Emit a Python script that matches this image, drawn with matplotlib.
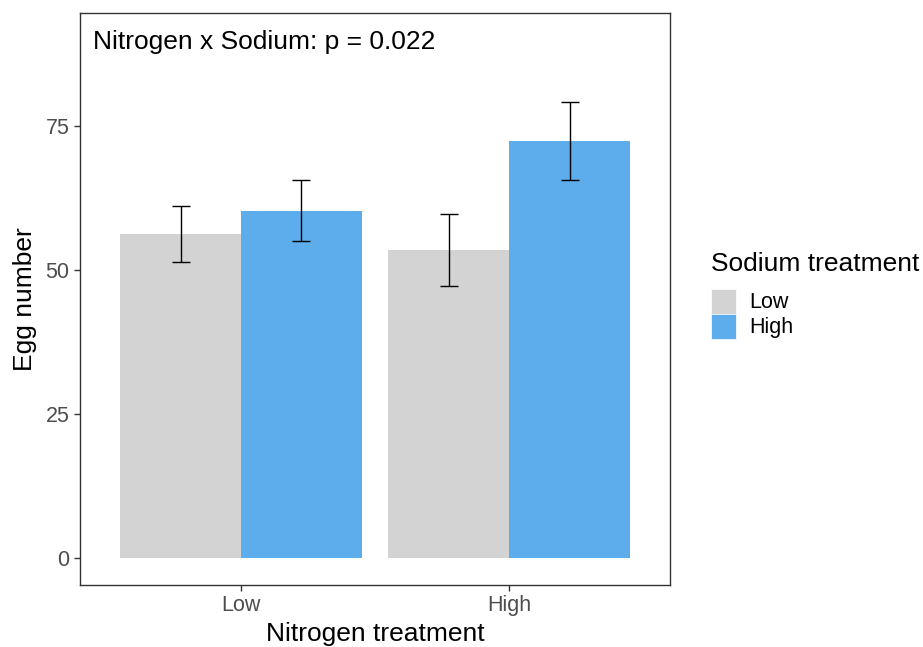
import matplotlib
matplotlib.use('Agg')
import matplotlib.pyplot as plt
from matplotlib.patches import Patch
import numpy as np

plt.rcParams['font.family'] = ['Liberation Sans', 'DejaVu Sans']

NITROGEN = ['Low', 'High']
SODIUM = ['Low', 'High']
MEANS = {'Low': [56.2, 53.5], 'High': [60.2, 72.4]}
LOWER = {'Low': [51.4, 47.2], 'High': [55.0, 65.6]}
UPPER = {'Low': [61.1, 59.7], 'High': [65.6, 79.2]}
COLORS = {'Low': '#D3D3D3', 'High': '#5DADEC'}

fig = plt.figure(figsize=(9.23, 6.47), dpi=100)
ax = fig.add_axes([0.0867, 0.0958, 0.6393, 0.8842])

x = np.arange(1, len(NITROGEN) + 1)
width = 0.45
for i, s in enumerate(SODIUM):
  xs = x + (i - 0.5) * width
  ax.bar(xs, MEANS[s], width=width, color=COLORS[s], zorder=1)
  means = np.array(MEANS[s])
  yerr = [means - np.array(LOWER[s]), np.array(UPPER[s]) - means]
  ax.errorbar(xs, means, yerr=yerr, fmt='none', ecolor='black',
              elinewidth=1, capsize=6.5, capthick=1, zorder=2)

ax.text(0.45, 89.6, 'Nitrogen x Sodium: p = 0.022', fontsize=19,
        ha='left', va='center')

ax.set_xlim(0.4, 2.6)
ax.set_ylim(-4.7, 94.6)
ax.set_xticks(x)
ax.set_xticklabels(NITROGEN)
ax.set_yticks([0, 25, 50, 75])
ax.tick_params(colors='#333333', labelcolor='#4D4D4D', labelsize=15.5,
               length=4, width=1)
for sp in ax.spines.values():
  sp.set_color('#333333')
  sp.set_linewidth(1)

ax.set_xlabel('Nitrogen treatment', fontsize=19, labelpad=4)
ax.set_ylabel('Egg number', fontsize=19, labelpad=6)

handles = [Patch(facecolor=COLORS[s], edgecolor='white', linewidth=0.5)
           for s in SODIUM]
leg = fig.legend(handles, SODIUM, title='Sodium treatment',
                 loc='upper left', bbox_to_anchor=(711 / 923, 1 - 252 / 647),
                 frameon=False, fontsize=15.5, title_fontsize=19,
                 handlelength=1.17, handleheight=1.41, handletextpad=0.62,
                 labelspacing=0.0, borderaxespad=0, borderpad=0)
leg._legend_box.align = 'left'
leg._legend_box.sep = 9

fig.savefig('out.png', dpi=100)
